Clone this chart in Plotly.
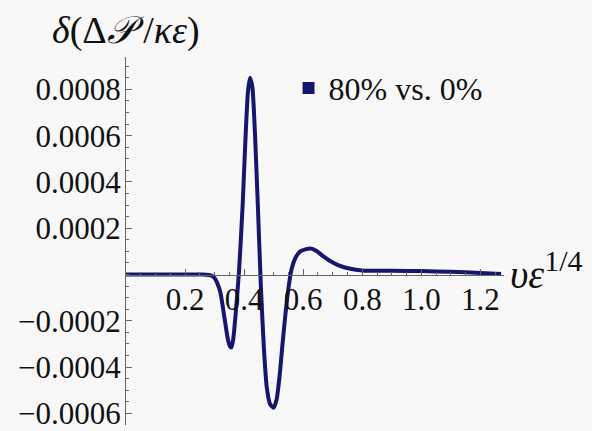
import plotly.graph_objects as go

# data (x in units of v*eps^(1/4), y in units of 1e-4)
x_vals = [0.00, 0.10, 0.20, 0.26, 0.29, 0.30, 0.31, 0.32, 0.335, 0.345, 0.352, 0.357, 0.363,
          0.372, 0.383, 0.395, 0.405, 0.413, 0.42, 0.428, 0.437, 0.447, 0.457, 0.467,
          0.477, 0.488, 0.50, 0.51, 0.52, 0.53, 0.54, 0.55, 0.56, 0.575, 0.59, 0.61,
          0.627, 0.645, 0.665, 0.69, 0.72, 0.76, 0.80, 0.90, 1.00, 1.10, 1.20, 1.27]
y_e4 = [0.0, 0.0, 0.0, 0.0, -0.05, -0.15, -0.4, -0.8, -2.0, -2.8, -3.1, -3.15, -2.8,
        -1.6, 0.2, 3.0, 6.0, 7.9, 8.5, 8.1, 6.0, 2.8, -0.6, -3.2,
        -4.9, -5.6, -5.75, -5.4, -4.4, -3.0, -1.7, -0.6, 0.2, 0.75, 1.0, 1.1,
        1.12, 1.02, 0.82, 0.6, 0.4, 0.25, 0.18, 0.16, 0.15, 0.12, 0.07, 0.02]
y_vals = [v * 1e-4 for v in y_e4]

series_name = "80% vs. 0%"
x_ticks = [0.2, 0.4, 0.6, 0.8, 1.0, 1.2]
x_ticktext = ["0.2", "0.4", "0.6", "0.8", "1.0", "1.2"]
y_ticks = [-0.0006, -0.0004, -0.0002, 0.0002, 0.0004, 0.0006, 0.0008]
y_ticktext = ["\u22120.0006", "\u22120.0004", "\u22120.0002", "0.0002", "0.0004", "0.0006", "0.0008"]

x_range = [0, 1.28]
y_range = [-0.00065, 0.00094]

navy = "#16166e"
bg = "#f8f8f8"
font_fam = "Liberation Serif, Times New Roman, serif"
fs = 31

fig = go.Figure()
fig.add_trace(go.Scatter(x=x_vals, y=y_vals, mode="lines",
                         line=dict(color=navy, width=4, shape="spline", smoothing=0.6),
                         showlegend=False, hoverinfo="skip"))
# legend entry (square marker)
fig.add_trace(go.Scatter(x=[None], y=[None], mode="markers", name=series_name,
                         marker=dict(symbol="square", size=12, color=navy)))

zero_pos = (0 - y_range[0]) / (y_range[1] - y_range[0])

fig.update_layout(
    width=592, height=431,
    margin=dict(l=126, r=88, t=57, b=6),
    paper_bgcolor=bg, plot_bgcolor=bg,
    font=dict(family=font_fam, size=fs, color="#111111"),
    xaxis=dict(range=x_range, showgrid=False, zeroline=False, automargin=False,
               anchor="free", position=zero_pos,
               showline=True, linecolor="#666666", linewidth=1,
               tickvals=x_ticks, ticktext=x_ticktext,
               ticks="inside", ticklen=6, tickcolor="#666666", tickwidth=1,
               ticklabelstandoff=-3, ticklabeloverflow="allow",
               minor=dict(ticks="inside", ticklen=3, dtick=0.05, tick0=0, tickcolor="#666666"),
               tickfont=dict(family=font_fam, size=fs)),
    yaxis=dict(range=y_range, showgrid=False, zeroline=False, automargin=False,
               showline=True, linecolor="#666666", linewidth=1,
               tickvals=y_ticks, ticktext=y_ticktext,
               ticks="inside", ticklen=6, tickcolor="#666666", tickwidth=1,
               ticklabelstandoff=-2, ticklabeloverflow="allow",
               minor=dict(ticks="inside", ticklen=3, dtick=0.00005, tick0=0, tickcolor="#666666"),
               tickfont=dict(family=font_fam, size=fs)),
    legend=dict(x=0.43, y=0.99, xanchor="left", yanchor="top",
                bgcolor="rgba(0,0,0,0)", font=dict(family=font_fam, size=fs + 1),
                itemwidth=30, tracegroupgap=0),
    annotations=[
        dict(text="<i>δ</i>(Δ<i>𝒫</i> /<i>κε</i>)", xref="x", yref="paper",
             x=0, y=1, xanchor="center", yanchor="bottom", yshift=3,
             showarrow=False, font=dict(family=font_fam, size=38)),
        dict(text="<i>υε</i><sup><span style=\"font-size:30px\">1/4</span></sup>",
             xref="paper", yref="y",
             x=1, y=0, xanchor="left", yanchor="middle", xshift=4, yshift=4,
             showarrow=False, font=dict(family=font_fam, size=40)),
    ],
)

fig.write_html("out.html", config={"displayModeBar": False},
               post_script="document.body.style.margin='0';document.body.style.background='%s';" % bg)
